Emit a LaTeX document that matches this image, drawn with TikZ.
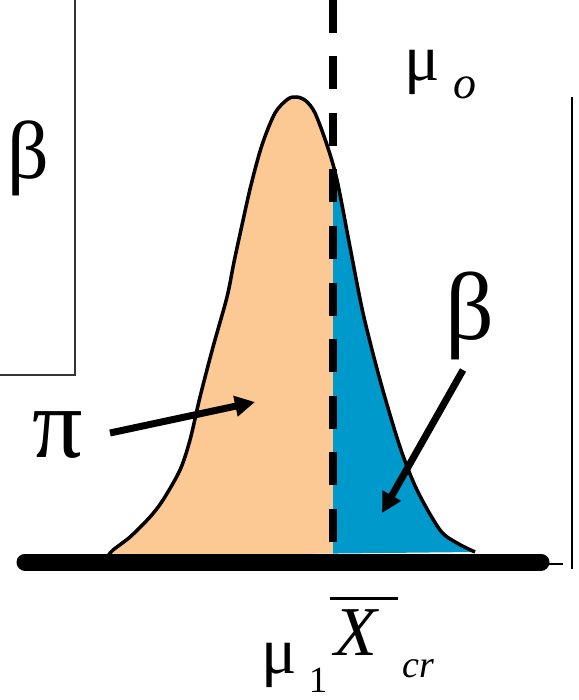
\documentclass[tikz,border=0pt]{standalone}
\usepackage{fontspec}
\setmainfont{Liberation Serif}
\definecolor{peach}{HTML}{FCC894}
\definecolor{ocean}{HTML}{0099CC}
\definecolor{frame}{HTML}{333333}
\usetikzlibrary{arrows.meta}
\tikzset{
  sym/.style={inner sep=0pt, font=\fontsize{#1pt}{#1pt}\selectfont},
  bigarrow/.style={line width=7pt, -{Triangle[length=20pt,width=20pt]}},
  critline/.style={line width=8pt, dash pattern=on 33pt off 23.5pt},
  bellline/.style={line width=3.5pt, line join=round}
}

\begin{document}
\begin{tikzpicture}[x=1pt,y=-1pt]
\useasboundingbox (0,0) rectangle (578,700);

% Left frame with beta
\draw[frame, line width=1.2pt] (75,0) -- (75,375) -- (0,375);
\node[sym=82] (betaL) at (28,158) {β};

% Right frame line
\draw[line width=1.8pt] (572,97) -- (572,569);

% Bell curve, split at the critical value (x = 333)
\begin{scope}
  \clip plot[smooth] coordinates {(108,556) (113,550) (130,537) (150,517) (163,500) (180,470) (190,440) (200,397) (213,347) (227,297) (234,262) (242,225) (251,185) (262,145) (275,113) (288,99) (297,97) (306,101) (315,113) (327,145) (337,180) (350,247) (363,313) (380,380) (400,447) (417,490) (440,530) (457,543) (475,552)} -- cycle;
  \fill[peach] (0,0) rectangle (333,600);
  \fill[ocean] (333,0) rectangle (578,600);
\end{scope}
\draw[bellline] plot[smooth] coordinates {(108,556) (113,550) (130,537) (150,517) (163,500) (180,470) (190,440) (200,397) (213,347) (227,297) (234,262) (242,225) (251,185) (262,145) (275,113) (288,99) (297,97) (306,101) (315,113) (327,145) (337,180) (350,247) (363,313) (380,380) (400,447) (417,490) (440,530) (457,543) (475,552)};

% Critical value line
\coordinate (critTop) at (333,0);
\coordinate (critBot) at (333,556);
\draw[critline] (critTop) -- (critBot);

% Axis
\draw[line width=17pt, line cap=round] (25,562) -- (541,562);
\draw[line width=1.2pt] (541,564) -- (563,564);

% Labels and arrows
\node[sym=66] (muO) at (422,72) {μ};
\node[sym=46] (subO) at (465,88) {\itshape o};

\node[sym=100] (piLbl) at (58,435) {π};
\coordinate (piTail) at (110,433);
\coordinate (piTip) at (255,402);
\draw[bigarrow] (piTail) -- (piTip);

\node[sym=96] (betaR) at (470,316) {β};
\coordinate (betaTail) at (463,370);
\coordinate (betaTip) at (382,513);
\draw[bigarrow] (betaTail) -- (betaTip);

% Bottom labels
\node[sym=66] (muOne) at (279,665) {μ};
\node[sym=37] (subOne) at (318,680) {1};
\node[sym=70] (xcr) at (356,633) {\itshape X};
\node[sym=38] (subCr) at (418,669) {\itshape cr};
\draw[line width=3pt] (xcr.north west) ++(-4,-11) -- ++(68,0);
\end{tikzpicture}
\end{document}
